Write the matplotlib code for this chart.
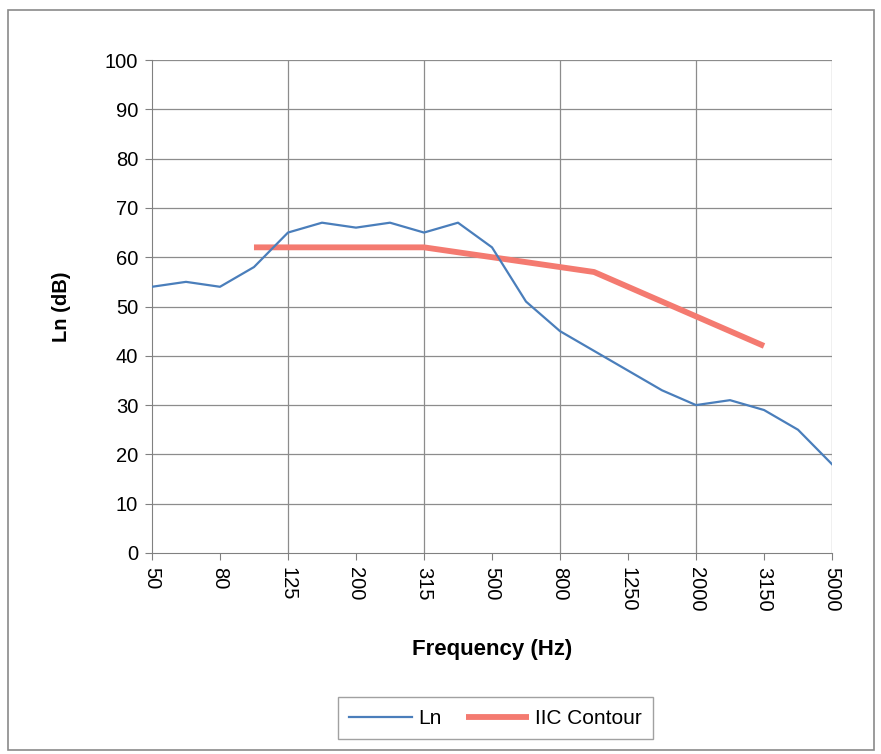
import numpy as np

import matplotlib
matplotlib.use('Agg')

import matplotlib.pyplot as plt
from matplotlib.patches import Rectangle

plt.rcParams['font.family'] = ['Liberation Sans', 'DejaVu Sans']

# 1/3 octave band centre frequencies
freqs = ['50', '63', '80', '100', '125', '160', '200', '250', '315', '400',
         '500', '630', '800', '1000', '1250', '1600', '2000', '2500', '3150',
         '4000', '5000']
ln_vals = [54, 55, 54, 58, 65, 67, 66, 67, 65, 67, 62, 51, 45, 41, 37, 33,
           30, 31, 29, 25, 18]
# IIC contour from 100 Hz to 3150 Hz
iic_freqs = ['100', '125', '160', '200', '250', '315', '400', '500', '630',
             '800', '1000', '1250', '1600', '2000', '2500', '3150']
iic_vals = [62, 62, 62, 62, 62, 62, 61, 60, 59, 58, 57, 54, 51, 48, 45, 42]


def main():
    fig = plt.figure(figsize=(8.81, 7.54), dpi=100)
    fig.patch.set_facecolor('white')
    fig.patches.append(Rectangle((0.009, 0.005), 0.983, 0.982, transform=fig.transFigure,
                                 fill=False, edgecolor='#8a8a8a', linewidth=1.2))

    ax = fig.add_axes([0.1725, 0.2666, 0.7719, 0.6538])
    x = np.arange(len(freqs))
    xi = np.array([freqs.index(f) for f in iic_freqs])

    ax.plot(x, ln_vals, color='#4a7ebb', linewidth=1.6, label='Ln', zorder=3)
    ax.plot(xi, iic_vals, color='#f47a70', linewidth=4.2, label='IIC Contour',
            solid_capstyle='butt', zorder=2)

    ax.set_xlim(0, len(freqs) - 1)
    ax.set_ylim(0, 100)
    ax.set_yticks(np.arange(0, 101, 10))
    ax.set_xticks(x[::2])
    ax.set_xticklabels(freqs[::2], rotation=-90, fontsize=14.5)
    ax.tick_params(axis='y', labelsize=14.5, length=5, direction='out', color='#808080', pad=5)
    ax.tick_params(axis='x', length=5, direction='out', color='#808080', pad=5)

    # gridlines: horizontal every 10 dB, vertical every 4th band
    for yv in range(10, 101, 10):
        ax.axhline(yv, color='#8c8c8c', linewidth=0.9, zorder=1)
    for xv in x[::4][1:]:
        ax.axvline(xv, color='#8c8c8c', linewidth=0.9, zorder=1)

    for s in ['top', 'right']:
        ax.spines[s].set_visible(False)
    for s in ['left', 'bottom']:
        ax.spines[s].set_color('#808080')

    ax.set_ylabel('Ln (dB)', fontsize=14.5, fontweight='bold', labelpad=24)
    ax.set_xlabel('Frequency (Hz)', fontsize=16, fontweight='bold', labelpad=20)

    leg = ax.legend(loc='upper center', bbox_to_anchor=(0.505, -0.272), ncol=2,
                    frameon=True, fancybox=False, fontsize=15, handlelength=3.0,
                    columnspacing=1.2, borderpad=0.55, handletextpad=0.3,
                    edgecolor='#8a8a8a')
    leg.get_frame().set_linewidth(1.0)

    plt.savefig('out.png', dpi=100)


if __name__ == '__main__':
    main()
